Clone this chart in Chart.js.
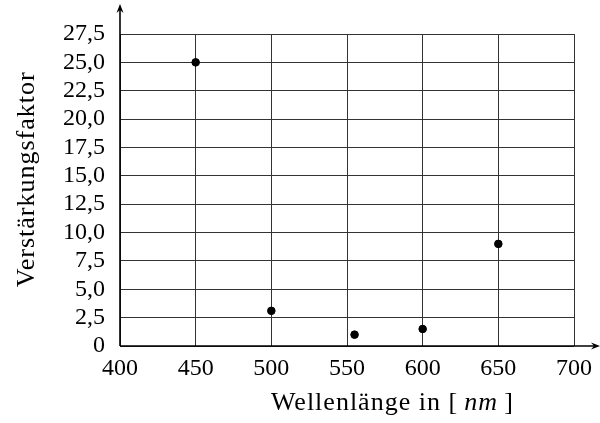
<!DOCTYPE html>
<html><head><meta charset="utf-8">
<script src="https://cdn.jsdelivr.net/npm/chart.js@4/dist/chart.umd.min.js"></script>
<style>html,body{margin:0;padding:0;background:#fff}#wrap{width:600px;height:423px}</style>
</head><body><div id="wrap"><canvas id="c" width="600" height="423"></canvas></div>
<script>
const wavelengths = [450, 500, 555, 600, 650];
const factors = [25.0, 3.1, 1.0, 1.5, 9.0];
const xTickRange = [400, 700, 50];
const yTickRange = [0, 27.5, 2.5];
const xTitleParts = ["Wellenlänge in [\u2009", "nm", "\u2009]"];
const yTitle = "Verstärkungsfaktor";

const FONT = "'Liberation Serif', 'Times New Roman', serif";
const titlePlugin = {
  id: 'titlesArrows',
  afterDraw(chart) {
    const ctx = chart.ctx, x = chart.scales.x, y = chart.scales.y;
    const x0 = x.getPixelForValue(xTickRange[0]), y0 = y.getPixelForValue(0);
    ctx.save();
    ctx.strokeStyle = '#000'; ctx.fillStyle = '#000'; ctx.lineWidth = 1.6;
    // y axis with arrow
    ctx.beginPath(); ctx.moveTo(x0, y0); ctx.lineTo(x0, 7); ctx.stroke();
    ctx.beginPath(); ctx.moveTo(x0, 4); ctx.lineTo(x0 - 3.5, 13); ctx.lineTo(x0, 10); ctx.lineTo(x0 + 3.5, 13); ctx.closePath(); ctx.fill();
    // x axis with arrow
    ctx.beginPath(); ctx.moveTo(x0, y0); ctx.lineTo(596, y0); ctx.stroke();
    ctx.beginPath(); ctx.moveTo(600, y0); ctx.lineTo(591, y0 - 3.5); ctx.lineTo(594, y0); ctx.lineTo(591, y0 + 3.5); ctx.closePath(); ctx.fill();
    // titles
    const fN = "26px " + FONT, fI = "italic 26px " + FONT;
    try { ctx.letterSpacing = '1px'; } catch (e) {}
    ctx.textBaseline = 'alphabetic'; ctx.textAlign = 'left';
    ctx.font = fN; const w1 = ctx.measureText(xTitleParts[0]).width;
    ctx.font = fI; const w2 = ctx.measureText(xTitleParts[1]).width;
    ctx.font = fN; const w3 = ctx.measureText(xTitleParts[2]).width;
    const cx = x.getPixelForValue(580);
    const sx = cx - (w1 + w2 + w3) / 2;
    const by = 410;
    ctx.font = fN; ctx.fillText(xTitleParts[0], sx, by);
    ctx.font = fI; ctx.fillText(xTitleParts[1], sx + w1, by);
    ctx.font = fN; ctx.fillText(xTitleParts[2], sx + w1 + w2, by);
    ctx.translate(27, y.getPixelForValue(14.7));
    ctx.rotate(-Math.PI / 2);
    ctx.textAlign = 'center'; ctx.textBaseline = 'middle';
    ctx.font = fN; ctx.fillText(yTitle, 0, 0);
    try { ctx.letterSpacing = '0px'; } catch (e) {}
    ctx.restore();
  }
};

new Chart(document.getElementById('c'), {
  type: 'scatter',
  data: { datasets: [{
    data: wavelengths.map((w, i) => ({ x: w, y: factors[i] })),
    backgroundColor: '#000', borderColor: '#000', pointRadius: 3.8, pointHoverRadius: 3.8
  }]},
  options: {
    responsive: false, animation: false, devicePixelRatio: 1,
    layout: { padding: { top: 34, right: 26, left: 0, bottom: 0 } },
    plugins: { legend: { display: false }, tooltip: { enabled: false } },
    scales: {
      x: {
        type: 'linear', min: xTickRange[0], max: xTickRange[1],
        ticks: { stepSize: xTickRange[2], autoSkip: false, color: '#000', font: { family: FONT, size: 24 }, padding: 8, maxRotation: 0 },
        grid: { color: '#333', lineWidth: 1, drawTicks: false },
        border: { display: false },
        afterFit(s) { s.height = 77; }
      },
      y: {
        type: 'linear', min: yTickRange[0], max: yTickRange[1],
        ticks: { stepSize: yTickRange[2], autoSkip: false, color: '#000', font: { family: FONT, size: 24 }, padding: 15,
          callback: v => v === 0 ? '0' : v.toFixed(1).replace('.', ',') },
        grid: { color: '#333', lineWidth: 1, drawTicks: false },
        border: { display: false },
        afterFit(s) { s.width = 120; }
      }
    }
  },
  plugins: [titlePlugin]
});
</script></body></html>
